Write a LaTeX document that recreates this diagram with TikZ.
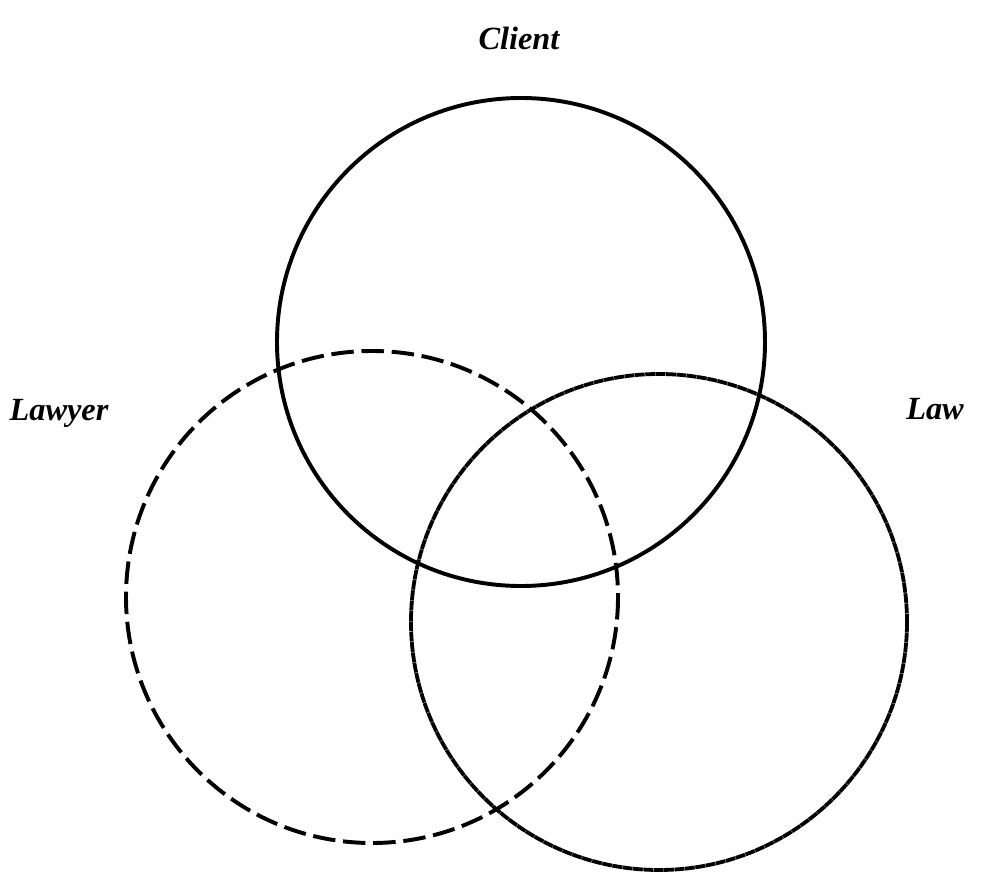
\documentclass[tikz,border=0pt]{standalone}
\usepackage{fontspec}
\setmainfont{Liberation Serif}
\usepackage{tikz}
\usetikzlibrary{positioning}

\begin{document}
\begin{tikzpicture}[
    x=0.025cm, y=-0.025cm,
    ring/.style={draw, line width=2.8pt},
    dashring/.style={ring, dash pattern=on 16pt off 5.5pt},
    dotring/.style={ring, line width=2.7pt, dash pattern=on 7pt off 0.4pt},
    tag/.style={font=\fontsize{23}{27}\selectfont\bfseries\itshape}
]
    \useasboundingbox (0,0) rectangle (987,879);
    % the three circles
    \coordinate (client) at (521,342);
    \coordinate (lawyer) at (372,597);
    \coordinate (law) at (659,622);
    \draw[ring] (client) circle (244);
    \draw[dashring] (lawyer) circle (246);
    \draw[dotring] (law) circle (248);
    % labels
    \node[tag] (clientlabel) at (519,38) {Client};
    \node[tag] (lawyerlabel) at (59,413) {Lawyer};
    \node[tag] (lawlabel) at (935,409) {Law};
\end{tikzpicture}
\end{document}
